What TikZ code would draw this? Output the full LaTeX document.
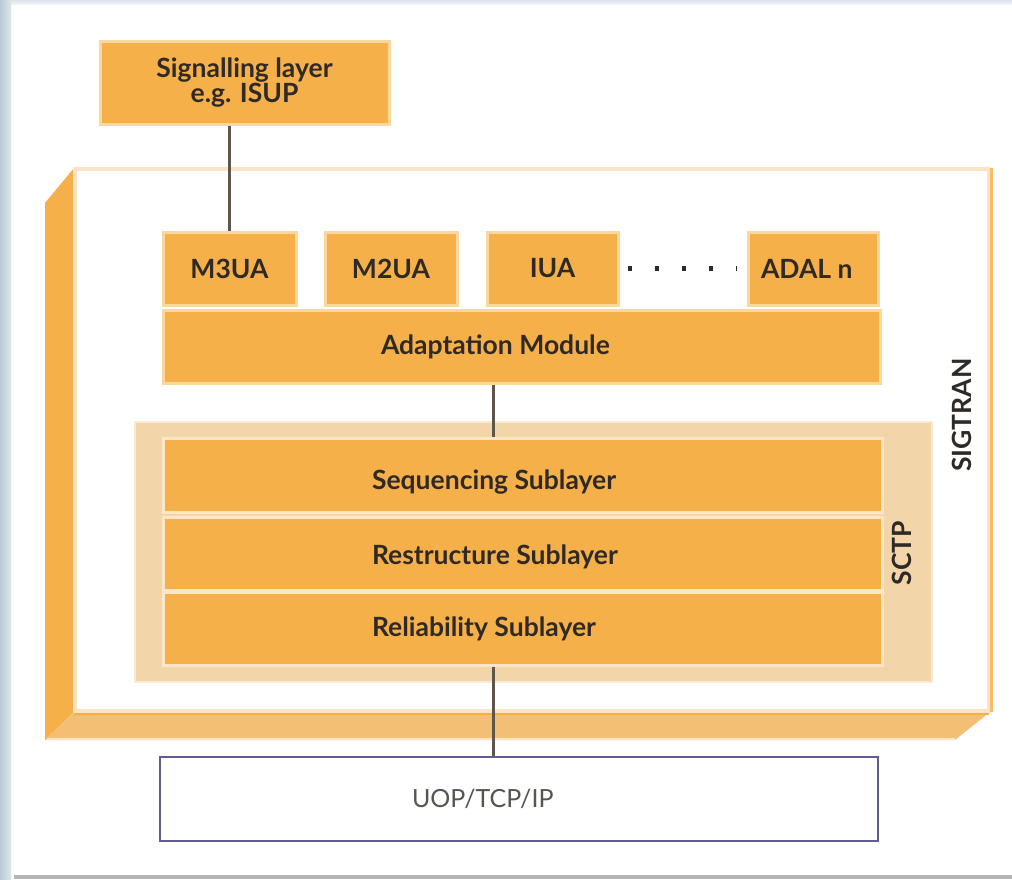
\documentclass[tikz,border=0pt]{standalone}
\usepackage{fontspec}
\setmainfont{Lato}
\definecolor{orng}{HTML}{F5B04A}
\definecolor{orngedge}{HTML}{FBD7A0}
\definecolor{lightedge}{HTML}{FCE3C3}
\definecolor{bottomface}{HTML}{F3BF75}
\definecolor{sctpfill}{HTML}{F2D5A8}
\definecolor{txt}{HTML}{2F2A26}
\definecolor{conn}{HTML}{5E564C}
\definecolor{udpedge}{HTML}{5F5F8E}
\definecolor{bgleft}{HTML}{B9CBD7}
\definecolor{bgleft2}{HTML}{DCE4E9}
\tikzset{
  boxbase/.style={rectangle, draw=orngedge, line width=3pt, fill=orng, inner sep=0pt,
    text=txt, font=\fontsize{26.5}{25}\selectfont\bfseries},
  layerbox/.style={boxbase, align=center},
  sublayer/.style={boxbase, draw=white!40!orngedge, minimum width=719pt},
  conline/.style={draw=conn, line width=3pt},
  sidelabel/.style={text=txt, font=\fontsize{26.5}{25}\selectfont\bfseries, rotate=90, inner sep=0pt}
}
\begin{document}
\begin{tikzpicture}[x=1pt, y={(0pt,-1pt)}]
\useasboundingbox (0,0) rectangle (1012,879);
% background
\fill[white] (0,0) rectangle (1012,879);
\shade[left color=bgleft, right color=bgleft2] (0,0) rectangle (11,879);
\shade[top color=bgleft2, bottom color=white!60!bgleft2] (11,0) rectangle (1012,4);
\fill[gray!95!black!55] (14,875) rectangle (1012,879);

% 3D SIGTRAN block
\fill[orng] (74,168) -- (45,203) -- (45,740) -- (74,712) -- cycle;
\fill[bottomface] (45,740) -- (74,712) -- (990,712) -- (955,740) -- cycle;
\draw[orng, line width=3pt] (74,713.5) -- (989,713.5);
\draw[lightedge, line width=2pt] (47,739) -- (955,739);
\draw[draw=lightedge, line width=4pt, fill=white] (75,169) rectangle (989,711);
\draw[orng!85!white, line width=3pt] (991,168) -- (991,712);
\node[sidelabel] (sigtran) at (962,415) {SIGTRAN};

% signalling layer
\node[layerbox, minimum width=289pt, minimum height=83pt] (sig) at (244.5,82.5) {Signalling layer\\e.g. ISUP};

% adaptation layer boxes
\node[layerbox, minimum width=133pt, minimum height=73pt] (m3ua) at (229.5,268.5) {M3UA};
\node[layerbox, minimum width=132pt, minimum height=73pt] (m2ua) at (391,268.5) {M2UA};
\node[layerbox, minimum width=131pt, minimum height=73pt] (iua) at (552.5,268.5) {IUA};
\node[layerbox, minimum width=130pt, minimum height=73pt] (adal) at (813,268.5) {\makebox[104pt][l]{ADAL n}};
\node[layerbox, minimum width=717pt, minimum height=73pt] (adapt) at (521.5,346.5) {\makebox[281pt][l]{Adaptation Module}};

% SCTP
\fill[sctpfill] (135,422) rectangle (932,682);
\draw[draw=white!50!sctpfill, line width=1.5pt] (135,422) rectangle (932,682);
\node[sidelabel] (sctp) at (902,553) {SCTP};
\node[sublayer, minimum height=74pt, text height=34pt, text depth=5.4pt] (seq) at (522.5,475) {\makebox[301pt][l]{Sequencing Sublayer}};
\node[sublayer, minimum height=73pt, text height=28pt, text depth=5.4pt] (rest) at (522.5,553.5) {\makebox[301pt][l]{Restructure Sublayer}};
\node[sublayer, minimum height=73pt] (rel) at (522.5,628.5) {\makebox[301pt][l]{Reliability Sublayer}};

% UDP
\node[rectangle, draw=udpedge, line width=2.5pt, fill=white, minimum width=718pt, minimum height=84pt,
  text=txt!80!white, font=\fontsize{25}{26}\selectfont] (udp) at (519,799) {\makebox[214pt][l]{UOP/TCP/IP}};

% connectors
\draw[conline] (sig.south -| m3ua.north) -- (m3ua.north);
\draw[conline] ([xshift=-28.5pt]adapt.south) -- ([xshift=-29.5pt]seq.north);
\draw[conline] ([xshift=-29.5pt]rel.south) -- ([xshift=-29.5pt]rel.south |- udp.north);
\draw[draw=txt, line width=4.5pt, dash pattern=on 4.5pt off 22.5pt] ([xshift=8pt]iua.east) -- ([xshift=-10pt]adal.west);
\end{tikzpicture}
\end{document}
